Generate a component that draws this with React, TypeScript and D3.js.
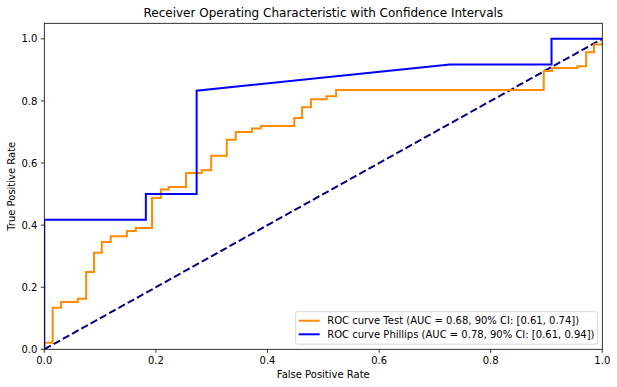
import React from "react";
import * as d3 from "d3";

const W = 617;
const H = 387;

// Orange "Test" ROC curve (step points, fpr / tpr)
const testFpr = [0, 0, 0.015, 0.015, 0.030, 0.030, 0.060, 0.060, 0.075, 0.075, 0.089, 0.089, 0.103, 0.103, 0.119, 0.119, 0.148, 0.148, 0.164, 0.164, 0.193, 0.193, 0.209, 0.209, 0.223, 0.223, 0.254, 0.254, 0.282, 0.282, 0.299, 0.299, 0.327, 0.327, 0.343, 0.343, 0.372, 0.372, 0.388, 0.388, 0.448, 0.448, 0.462, 0.462, 0.478, 0.478, 0.506, 0.506, 0.523, 0.523, 0.895, 0.895, 0.910, 0.910, 0.955, 0.955, 0.971, 0.971, 0.985, 0.985, 1.0, 1.0];
const testTpr = [0, 0.021, 0.021, 0.134, 0.134, 0.152, 0.152, 0.163, 0.163, 0.249, 0.249, 0.311, 0.311, 0.346, 0.346, 0.364, 0.364, 0.381, 0.381, 0.391, 0.391, 0.487, 0.487, 0.515, 0.515, 0.523, 0.523, 0.568, 0.568, 0.577, 0.577, 0.623, 0.623, 0.675, 0.675, 0.700, 0.700, 0.711, 0.711, 0.719, 0.719, 0.745, 0.745, 0.780, 0.780, 0.805, 0.805, 0.815, 0.815, 0.835, 0.835, 0.896, 0.896, 0.906, 0.906, 0.912, 0.912, 0.957, 0.957, 0.982, 0.982, 1.0];

// Blue "Phillips" ROC curve
const phillipsFpr = [0, 0, 0.182, 0.182, 0.273, 0.273, 0.727, 0.909, 0.909, 1.0];
const phillipsTpr = [0, 0.417, 0.417, 0.5, 0.5, 0.833, 0.917, 0.917, 1.0, 1.0];

const diagFpr = [0, 1];
const diagTpr = [0, 1];

const xTicks = [0, 0.2, 0.4, 0.6, 0.8, 1.0];
const yTicks = [0, 0.2, 0.4, 0.6, 0.8, 1.0];

const legendLabels = [
  "ROC curve Test (AUC = 0.68, 90% CI: [0.61, 0.74])",
  "ROC curve Phillips (AUC = 0.78, 90% CI: [0.61, 0.94])",
];
const legendColors = ["darkorange", "blue"];

const FONT = "DejaVu Sans, sans-serif";

export default function App() {
  const left = 44.3;
  const right = 602.3;
  const top = 23.3;
  const bottom = 349.3;
  const x = d3.scaleLinear().domain([0, 1]).range([left, right]);
  const y = d3.scaleLinear().domain([0, 1.05]).range([bottom, top]);

  const line = d3
    .line<[number, number]>()
    .x((d) => x(d[0]))
    .y((d) => y(d[1]));

  const zip = (a: number[], b: number[]) =>
    a.map((v, i) => [v, b[i]] as [number, number]);

  const legX = 295.7;
  const legY = 311.7;
  const legW = 302;
  const legH = 32.5;

  return (
    <svg
      width={W}
      height={H}
      style={{ position: "absolute", left: 0, top: 0, background: "#fff" }}
      fontFamily={FONT}
    >
      <rect x={0} y={0} width={W} height={H} fill="#fff" />
      <defs>
        <clipPath id="clip">
          <rect x={left} y={top} width={right - left} height={bottom - top} />
        </clipPath>
      </defs>
      <g clipPath="url(#clip)">
        <path
          d={line(zip(diagFpr, diagTpr)) || ""}
          fill="none"
          stroke="navy"
          strokeWidth={2}
          strokeDasharray="7.4,3.2"
        />
        <path
          d={line(zip(testFpr, testTpr)) || ""}
          fill="none"
          stroke="darkorange"
          strokeWidth={2}
        />
        <path
          d={line(zip(phillipsFpr, phillipsTpr)) || ""}
          fill="none"
          stroke="blue"
          strokeWidth={2}
        />
      </g>
      {/* spines */}
      <rect
        x={left}
        y={top}
        width={right - left}
        height={bottom - top}
        fill="none"
        stroke="#000"
        strokeWidth={0.8}
      />
      {/* x ticks */}
      {xTicks.map((t) => (
        <g key={"x" + t}>
          <line x1={x(t)} x2={x(t)} y1={bottom} y2={bottom + 3.5} stroke="#000" strokeWidth={0.8} />
          <text x={x(t)} y={bottom + 15} textAnchor="middle" fontSize={10} fill="#000">
            {t.toFixed(1)}
          </text>
        </g>
      ))}
      {/* y ticks */}
      {yTicks.map((t) => (
        <g key={"y" + t}>
          <line x1={left - 3.5} x2={left} y1={y(t)} y2={y(t)} stroke="#000" strokeWidth={0.8} />
          <text x={left - 7} y={y(t) + 3.6} textAnchor="end" fontSize={10} fill="#000">
            {t.toFixed(1)}
          </text>
        </g>
      ))}
      <text x={(left + right) / 2} y={378} textAnchor="middle" fontSize={10} fill="#000">
        False Positive Rate
      </text>
      <text
        transform={`translate(15, ${(top + bottom) / 2}) rotate(-90)`}
        textAnchor="middle"
        fontSize={10}
        fill="#000"
      >
        True Positive Rate
      </text>
      <text x={(left + right) / 2} y={17} textAnchor="middle" fontSize={12} fill="#000">
        Receiver Operating Characteristic with Confidence Intervals
      </text>
      {/* legend */}
      <rect
        x={legX}
        y={legY}
        width={legW}
        height={legH}
        rx={2}
        fill="#fff"
        fillOpacity={0.8}
        stroke="#ccc"
        strokeWidth={0.8}
      />
      {legendLabels.map((lab, i) => (
        <g key={lab}>
          <line
            x1={legX + 3}
            x2={legX + 24}
            y1={legY + 9 + i * 13.6}
            y2={legY + 9 + i * 13.6}
            stroke={legendColors[i]}
            strokeWidth={2}
          />
          <text x={legX + 31.5} y={legY + 12.6 + i * 13.6} fontSize={10} fill="#000">
            {lab}
          </text>
        </g>
      ))}
    </svg>
  );
}
